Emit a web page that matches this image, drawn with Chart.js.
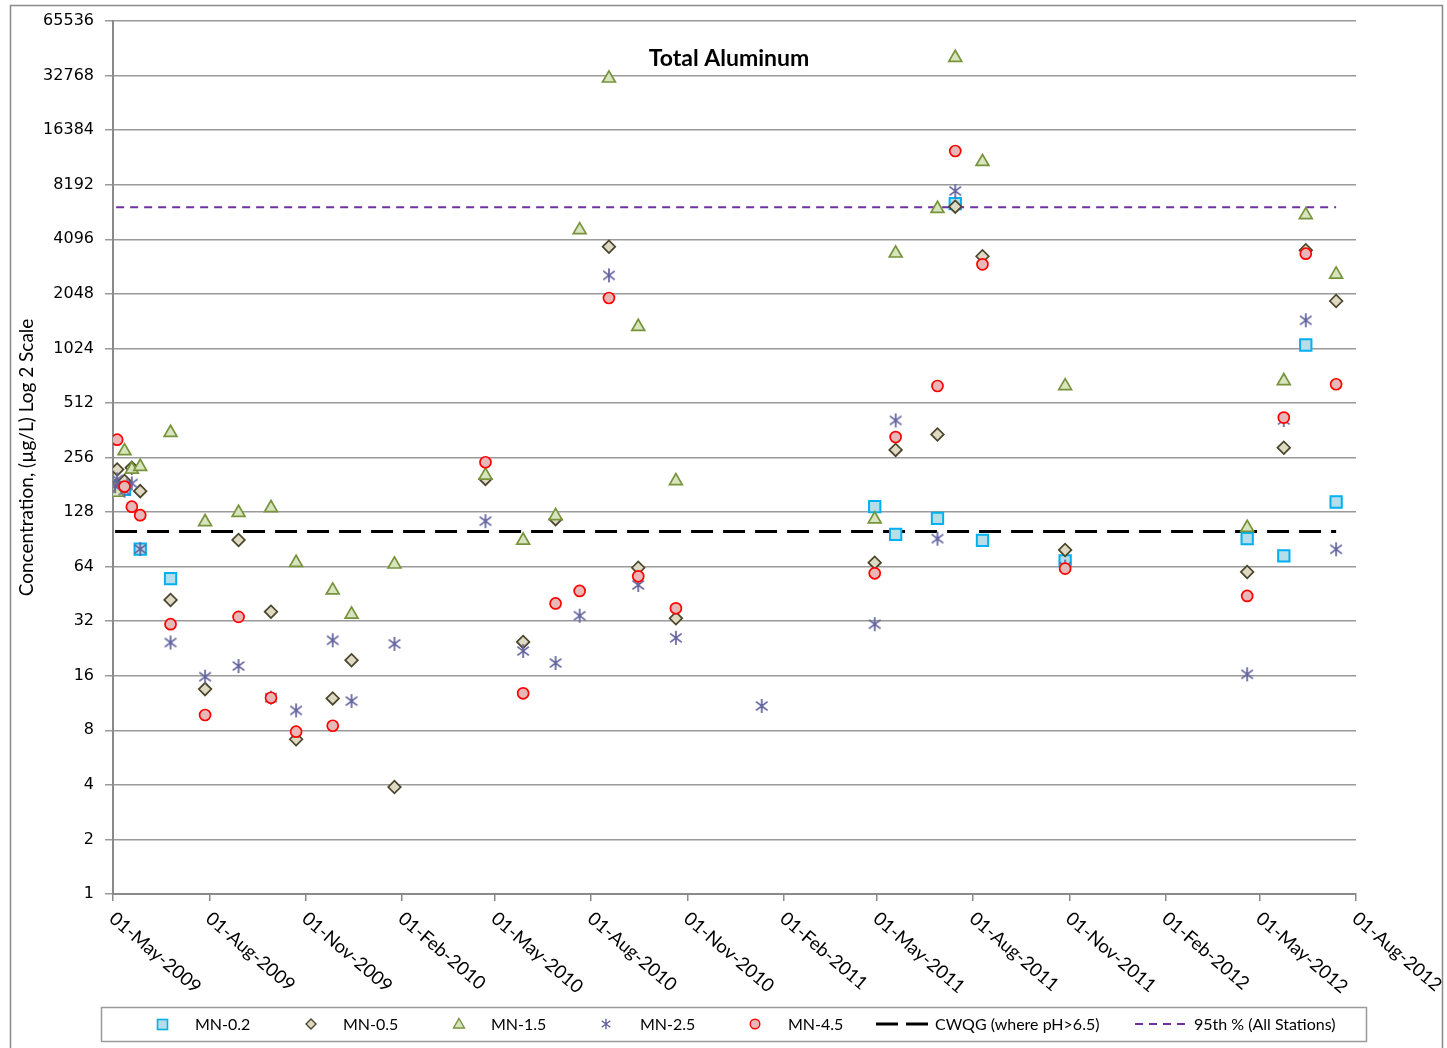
<!DOCTYPE html>
<html><head><meta charset="utf-8">
<script src="https://cdn.jsdelivr.net/npm/chart.js@4/dist/chart.umd.min.js"></script>
<style>html,body{margin:0;padding:0;background:#fff;}#wrap{width:1447px;height:1048px;position:relative;}</style>
</head><body><div id="wrap"><canvas id="c" width="1447" height="1048"></canvas></div>
<script>
const chartTitle = 'Total Aluminum';
const yAxisTitle = 'Concentration, (µg/L) Log 2 Scale';
const xTickDates = ['2009-05-01','2009-08-01','2009-11-01','2010-02-01','2010-05-01','2010-08-01','2010-11-01','2011-02-01','2011-05-01','2011-08-01','2011-11-01','2012-02-01','2012-05-01','2012-08-01'];
const xTickLabels = ['01-May-2009','01-Aug-2009','01-Nov-2009','01-Feb-2010','01-May-2010','01-Aug-2010','01-Nov-2010','01-Feb-2011','01-May-2011','01-Aug-2011','01-Nov-2011','01-Feb-2012','01-May-2012','01-Aug-2012'];
const yTickValues = [1,2,4,8,16,32,64,128,256,512,1024,2048,4096,8192,16384,32768,65536];
const seriesNames = ['MN-0.2','MN-0.5','MN-1.5','MN-2.5','MN-4.5','CWQG (where pH>6.5)','95th % (All Stations)'];

const mn02Dates = ['2009-05-12','2009-05-27','2009-06-25','2011-04-29','2011-05-19','2011-06-28','2011-07-15','2011-08-10','2011-10-28','2012-04-19','2012-05-24','2012-06-14','2012-07-13'];
const mn02Values = [171,80,55,137,96.5,118,6436,89.4,68.8,91.3,73.3,1069,145.5];

const mn05Dates = ['2009-05-05','2009-05-12','2009-05-19','2009-05-27','2009-06-25','2009-07-28','2009-08-29','2009-09-29','2009-10-23','2009-11-27','2009-12-15','2010-01-25','2010-04-22','2010-05-28','2010-06-28','2010-08-18','2010-09-15','2010-10-21','2011-04-29','2011-05-19','2011-06-28','2011-07-15','2011-08-10','2011-10-28','2012-04-19','2012-05-24','2012-06-14','2012-07-13'];
const mn05Values = [220,190,225,167,41.9,13.5,89.8,36.1,7.14,12.0,19.5,3.89,195,24.6,117,3727,63.1,33.2,67.3,282,343,6196,3300,79.1,59.8,290,3561,1869];

const mn15Dates = ['2009-05-03','2009-05-05','2009-05-12','2009-05-19','2009-05-27','2009-06-25','2009-07-28','2009-08-29','2009-09-29','2009-10-23','2009-11-27','2009-12-15','2010-01-25','2010-04-22','2010-05-28','2010-06-28','2010-07-21','2010-08-18','2010-09-15','2010-10-21','2011-04-29','2011-05-19','2011-06-28','2011-07-15','2011-08-10','2011-10-28','2012-04-19','2012-05-24','2012-06-14','2012-07-13'];
const mn15Values = [176,164,278,220,228,351,113,127,135,67.3,47.4,34.9,65.9,204,89.3,122,4608,31650,1350,190,117,3426,6040,41130,10960,635,105,677,5575,2623];

const mn25Dates = ['2009-05-03','2009-05-05','2009-05-12','2009-05-19','2009-05-27','2009-06-25','2009-07-28','2009-08-29','2009-09-29','2009-10-23','2009-11-27','2009-12-15','2010-01-25','2010-04-22','2010-05-28','2010-06-28','2010-07-21','2010-08-18','2010-09-15','2010-10-21','2011-01-11','2011-04-29','2011-05-19','2011-06-28','2011-07-15','2011-10-28','2012-04-19','2012-05-24','2012-06-14','2012-07-13'];
const mn25Values = [178,194,168,184,80,24.4,15.8,18.1,12.1,10.3,25.1,11.6,24.0,114,21.9,18.8,34.3,2590,50.7,25.9,10.9,30.8,410,91.3,7565,64,16.3,412,1463,79.8];

const mn45Dates = ['2009-05-05','2009-05-12','2009-05-19','2009-05-27','2009-06-25','2009-07-28','2009-08-29','2009-09-29','2009-10-23','2009-11-27','2010-04-22','2010-05-28','2010-06-28','2010-07-21','2010-08-18','2010-09-15','2010-10-21','2011-04-29','2011-05-19','2011-06-28','2011-07-15','2011-08-10','2011-10-28','2012-04-19','2012-05-24','2012-06-14','2012-07-13'];
const mn45Values = [321,177,137,123,30.8,9.72,33.8,12.1,7.86,8.48,241,12.8,40.1,47.0,1942,56.6,37.7,58.8,332,635,12570,2978,62.4,44.1,425,3410,649];

const cwqgDates = ['2009-05-03','2012-07-13'];
const cwqgValues = [100,100];
const p95Dates = ['2009-05-04','2012-07-13'];
const p95Values = [6150,6150];

function day(s){const p=s.split('-').map(Number);return Date.UTC(p[0],p[1]-1,p[2])/86400000;}
function pts(ds,vs){return ds.map((d,i)=>({x:day(d),y:vs[i]}));}

const starColor = '#62629f';
function makeStar(size,lw){
  const c=document.createElement('canvas');c.width=size;c.height=size;
  const g=c.getContext('2d');const m=size/2;const a=size*0.36;
  g.strokeStyle=starColor;g.lineWidth=lw;g.beginPath();
  g.moveTo(m-a,m-a*0.75);g.lineTo(m+a,m+a*0.75);
  g.moveTo(m-a,m+a*0.75);g.lineTo(m+a,m-a*0.75);
  g.moveTo(m,m-a*1.2);g.lineTo(m,m+a*1.2);
  g.stroke();return c;
}
const starImg = makeStar(16,1.7);
const starLegend = makeStar(12,1.4);

const FONT='Lato, "Open Sans", sans-serif';

const deco = {
  id:'deco',
  beforeDraw(chart){
    const ctx=chart.ctx;ctx.save();
    ctx.fillStyle='#fff';ctx.fillRect(0,0,chart.width,chart.height);
    ctx.strokeStyle='#8a8a8a';ctx.lineWidth=1.5;
    ctx.strokeRect(10.5,5.5,1432,1080);
    ctx.restore();
  },
  afterDraw(chart){
    const ctx=chart.ctx;const xs=chart.scales.x;
    ctx.save();
    ctx.fillStyle='#000';ctx.font='bold 23px '+FONT;ctx.textAlign='center';ctx.textBaseline='middle';
    ctx.fillText(chartTitle,729,59);
    ctx.font='18.5px '+FONT;ctx.textAlign='left';ctx.textBaseline='middle';
    xTickDates.forEach((d,i)=>{
      const px=xs.getPixelForValue(day(d));
      ctx.save();ctx.translate(px-1,916);ctx.rotate(40.5*Math.PI/180);
      ctx.fillText(xTickLabels[i],0,0);ctx.restore();
    });
    ctx.strokeStyle='#9a9a9a';ctx.lineWidth=1.5;ctx.strokeRect(101.5,1007.5,1265,34);
    const ly=1024;
    ctx.font='16px '+FONT;ctx.fillStyle='#000';ctx.textBaseline='middle';
    const tx=[195,343,491,640,788,935,1194];
    seriesNames.forEach((n,i)=>ctx.fillText(n,tx[i],ly+1));
    ctx.fillStyle='#b7dde8';ctx.strokeStyle='#00b0f0';ctx.lineWidth=1.6;
    ctx.fillRect(157.5,1019.5,10,10);ctx.strokeRect(157.5,1019.5,10,10);
    ctx.fillStyle='#ddd9c3';ctx.strokeStyle='#4a452a';ctx.lineWidth=1.4;
    ctx.beginPath();ctx.moveTo(311,ly-5);ctx.lineTo(316,ly);ctx.lineTo(311,ly+5);ctx.lineTo(306,ly);ctx.closePath();ctx.fill();ctx.stroke();
    ctx.fillStyle='#d7e4bd';ctx.strokeStyle='#77933c';
    ctx.beginPath();ctx.moveTo(459,ly-5.5);ctx.lineTo(464.5,ly+4);ctx.lineTo(453.5,ly+4);ctx.closePath();ctx.fill();ctx.stroke();
    ctx.drawImage(starLegend,606-6,ly-6);
    ctx.fillStyle='#e6b9b8';ctx.strokeStyle='#ff0000';
    ctx.beginPath();ctx.arc(755,ly,4.8,0,Math.PI*2);ctx.fill();ctx.stroke();
    ctx.strokeStyle='#000';ctx.lineWidth=3;ctx.setLineDash([22,8]);
    ctx.beginPath();ctx.moveTo(876,ly);ctx.lineTo(932,ly);ctx.stroke();
    ctx.strokeStyle='#7030a0';ctx.lineWidth=2;ctx.setLineDash([8,6]);
    ctx.beginPath();ctx.moveTo(1135,ly);ctx.lineTo(1190,ly);ctx.stroke();
    ctx.restore();
  }
};

new Chart(document.getElementById('c'),{
  type:'scatter',
  data:{datasets:[
    {label:seriesNames[0],data:pts(mn02Dates,mn02Values),order:5,pointStyle:'rect',pointRadius:8,backgroundColor:'#b7dde8',borderColor:'#00b0f0',borderWidth:2,showLine:false},
    {label:seriesNames[1],data:pts(mn05Dates,mn05Values),order:4,pointStyle:'rectRot',pointRadius:6.3,backgroundColor:'#ddd9c3',borderColor:'#4a452a',borderWidth:1.7,showLine:false},
    {label:seriesNames[2],data:pts(mn15Dates,mn15Values),order:3,pointStyle:'triangle',pointRadius:7.4,backgroundColor:'#d7e4bd',borderColor:'#77933c',borderWidth:1.7,showLine:false},
    {label:seriesNames[3],data:pts(mn25Dates,mn25Values),order:2,pointStyle:starImg,pointRadius:6,backgroundColor:starColor,borderColor:starColor,showLine:false},
    {label:seriesNames[4],data:pts(mn45Dates,mn45Values),order:1,pointStyle:'circle',pointRadius:5.5,backgroundColor:'#e6b9b8',borderColor:'#ff0000',borderWidth:1.7,showLine:false},
    {type:'line',label:seriesNames[5],data:pts(cwqgDates,cwqgValues),order:7,showLine:true,pointRadius:0,borderColor:'#000',borderWidth:3,borderDash:[22,10],fill:false},
    {type:'line',label:seriesNames[6],data:pts(p95Dates,p95Values),order:6,showLine:true,pointRadius:0,borderColor:'#7030a0',borderWidth:2,borderDash:[8,6],fill:false}
  ]},
  options:{
    responsive:false,animation:false,devicePixelRatio:1,
    layout:{padding:{left:0,right:91,top:21,bottom:0}},
    plugins:{legend:{display:false},title:{display:false},tooltip:{enabled:false}},
    scales:{
      x:{type:'linear',min:day(xTickDates[0]),max:day(xTickDates[xTickDates.length-1]),
        afterBuildTicks:s=>{s.ticks=xTickDates.map(d=>({value:day(d)}));},
        afterFit:s=>{s.height=154;},
        ticks:{display:false},
        grid:{display:true,drawOnChartArea:false,drawTicks:true,tickLength:7,color:'#8a8a8a',lineWidth:1.5},
        border:{display:true,color:'#8a8a8a',width:2}},
      y:{type:'logarithmic',min:1,max:65536,
        afterBuildTicks:s=>{s.ticks=yTickValues.map(v=>({value:v}));},
        afterFit:s=>{s.width=113;},
        ticks:{autoSkip:false,color:'#000',font:{family:'"DejaVu Sans", sans-serif',size:16},padding:11,callback:v=>String(v)},
        grid:{color:'#9a9a9a',lineWidth:1.5,tickLength:8},
        border:{color:'#8a8a8a',width:2},
        title:{display:true,text:yAxisTitle,color:'#000',font:{family:FONT,size:19},padding:{top:15,bottom:0}}}
    }
  },
  plugins:[deco]
});
</script></body></html>
